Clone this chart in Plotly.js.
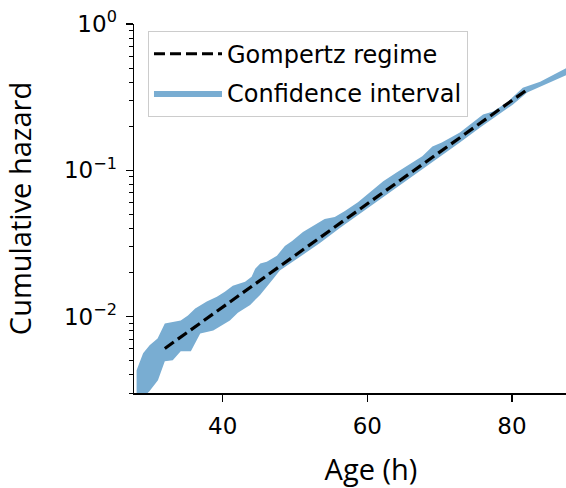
<!DOCTYPE html>
<html><head><meta charset="utf-8">
<script src="https://cdn.plot.ly/plotly-3.0.1.min.js"></script>
<style>html,body{margin:0;padding:0;overflow:hidden;background:#fff}#chart{width:608px;height:488px}</style>
</head><body><div id="chart"></div>
<script>
// Gompertz regime fit (dashed line)
const lineAge = [32.0, 82.1];
const lineHazard = [0.00605, 0.356];

// Confidence interval, upper edge
const upperAge = [28.1, 29.0, 29.9, 31.0, 32.0, 33.4, 34.2, 35.2, 36.2, 37.8, 39.2, 40.3, 41.4, 43.1, 44.0, 44.5, 45.2, 46.1, 47.5, 48.6, 49.6, 51.1, 52.5, 54.1, 55.5, 56.9, 58.7, 60.0, 62.2, 64.1, 66.3, 67.6, 69.0, 70.3, 72.8, 76.0, 77.4, 79.3, 81.5, 83.9, 87.6, 88.5];
const upperHazard = [0.00429, 0.0056, 0.00635, 0.00708, 0.00896, 0.00925, 0.00939, 0.01016, 0.01133, 0.01265, 0.01367, 0.01479, 0.01625, 0.0173, 0.0187, 0.0212, 0.0230, 0.0237, 0.0260, 0.0304, 0.0329, 0.0379, 0.0416, 0.0464, 0.0479, 0.0526, 0.0605, 0.0687, 0.0842, 0.0969, 0.1133, 0.1245, 0.1456, 0.1550, 0.1814, 0.2404, 0.2519, 0.2901, 0.367, 0.403, 0.502, 0.52];

// Confidence interval, lower edge
const lowerAge = [28.1, 29.9, 31.05, 32.0, 33.1, 34.2, 35.6, 36.9, 38.7, 39.6, 41.0, 42.1, 43.8, 45.2, 47.0, 47.9, 50.7, 53.5, 56.2, 58.9, 61.7, 64.5, 67.3, 70.1, 72.8, 75.6, 78.3, 80.1, 82.1, 83.9, 87.6, 88.5];
const lowerHazard = [0.0025, 0.0031, 0.00367, 0.00494, 0.00502, 0.00578, 0.00578, 0.00766, 0.00803, 0.00855, 0.00939, 0.0106, 0.0120, 0.0141, 0.0181, 0.0206, 0.0256, 0.0319, 0.0403, 0.0502, 0.0625, 0.0791, 0.0984, 0.1245, 0.1550, 0.1962, 0.2443, 0.281, 0.3396, 0.3727, 0.4498, 0.47];

const xTickVals = [40, 60, 80];
const yTickVals = [0.01, 0.1, 1];
const yTickText = ['10<sup>\u22122</sup>', '10<sup>\u22121</sup>', '10<sup>0</sup>'];

const minorY = [];
[0.001, 0.01, 0.1].forEach(d => { for (let k = 2; k <= 9; k++) minorY.push(+(d * k).toPrecision(3)); });

const bandX = upperAge.concat(lowerAge.slice().reverse());
const bandY = upperHazard.concat(lowerHazard.slice().reverse());

const traces = [
  {
    x: bandX, y: bandY, type: 'scatter', mode: 'lines', fill: 'toself',
    fillcolor: 'rgb(121,173,210)', line: {width: 0, color: 'rgb(121,173,210)'},
    name: 'Confidence interval', legendrank: 2, legendgroup: 'b', hoverinfo: 'skip'
  },
  {
    x: lineAge, y: lineHazard, type: 'scatter', mode: 'lines',
    line: {color: '#000000', width: 3.2, dash: '11px,5px'},
    name: 'Gompertz regime', legendrank: 1, legendgroup: 'a'
  }
];

const tickFont = {family: 'DejaVu Sans', size: 23, color: '#000'};
const layout = {
  width: 608, height: 488,
  margin: {l: 134, r: 0, t: 24, b: 95},
  paper_bgcolor: '#fff', plot_bgcolor: '#fff',
  showlegend: true,
  legend: {
    x: 0.0295, y: 0.982, xanchor: 'left', yanchor: 'top',
    bgcolor: 'rgba(255,255,255,0.8)', bordercolor: '#cccccc', borderwidth: 1,
    font: {family: 'DejaVu Sans', size: 24, color: '#000'},
    itemwidth: 68, traceorder: 'grouped', tracegroupgap: 5
  },
  xaxis: {
    range: [27.74, 93.28], showgrid: false, zeroline: false,
    showline: true, linecolor: '#000', linewidth: 1.5,
    ticks: 'outside', ticklen: 7, tickwidth: 1.5, tickcolor: '#000',
    tickmode: 'array', tickvals: xTickVals, tickfont: tickFont, ticklabelstandoff: 5,
    title: {text: 'Age (h)', font: {family: 'Open Sans', size: 29, color: '#000'}, standoff: 25}
  },
  yaxis: {
    type: 'log', range: [Math.log10(0.003), 0], showgrid: false, zeroline: false,
    showline: true, linecolor: '#000', linewidth: 1.5,
    ticks: 'outside', ticklen: 7, tickwidth: 1.5, tickcolor: '#000',
    tickmode: 'array', tickvals: yTickVals, ticktext: yTickText, tickfont: tickFont, ticklabelstandoff: 4,
    minor: {tickmode: 'array', tickvals: minorY, ticks: 'outside', ticklen: 4, tickwidth: 1, tickcolor: '#000', showgrid: false},
    title: {text: 'Cumulative hazard', font: {family: 'Open Sans', size: 29, color: '#000'}, standoff: 25}
  }
};

Plotly.newPlot('chart', traces, layout, {displayModeBar: false, staticPlot: true});
</script>
</body></html>
